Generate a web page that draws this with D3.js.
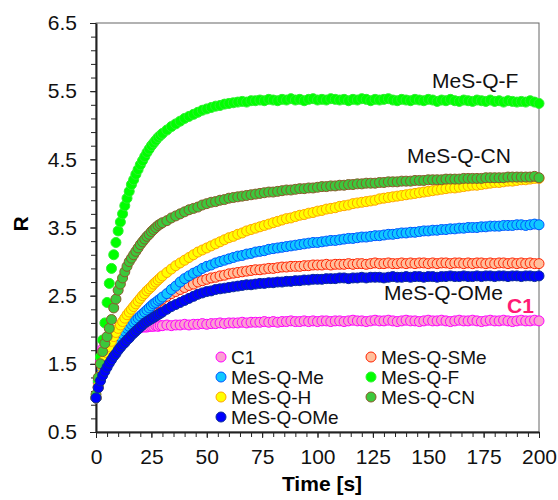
<!DOCTYPE html>
<html>
<head>
<meta charset="utf-8">
<style>
  body { margin: 0; background: #fff; }
  svg { font-family: 'Liberation Sans', Arial, sans-serif; }
  .axis text { font-size: 21px; fill: #111; }
  .axis path, .axis line { stroke: #222; }
</style>
</head>
<body>
<svg width="558" height="500"></svg>
<script src="https://d3js.org/d3.v7.min.js"></script>
<script>
// sample times [s]
const times = [0,1,2,3,4,5,6,7,8,9,10,11,12,13,14,15,16,17,18,19,20,21,22,23,24,25,26,27,28,29,30,
  32,34,36,38,40,42,44,46,48,50,52,54,56,58,60,62,64,66,68,70,72,74,76,78,80,82,84,86,88,90,
  92,94,96,98,100,102,104,106,108,110,112,114,116,118,120,122,124,126,128,130,
  132,134,136,138,140,142,144,146,148,150,152,154,156,158,160,162,164,166,168,170,
  172,174,176,178,180,182,184,186,188,190,192,194,196,198,200];

const c1 = [1.00,1.22,1.52,1.72,1.82,1.88,1.92,1.95,1.97,1.98,1.99,2.00,2.00,2.01,2.01,2.02,2.02,2.02,2.03,2.03,
  2.03,2.04,2.04,2.04,2.05,2.05,2.05,2.06,2.05,2.06,2.06,
  2.07,2.06,2.07,2.07,2.08,2.07,2.08,2.08,2.09,2.08,
  2.09,2.09,2.10,2.09,2.10,2.10,2.10,2.11,2.10,2.11,
  2.11,2.11,2.12,2.11,2.12,2.11,2.12,2.12,2.13,2.12,
  2.12,2.13,2.12,2.13,2.12,2.13,2.13,2.12,2.13,2.13,
  2.12,2.13,2.14,2.13,2.13,2.12,2.13,2.14,2.13,2.13,
  2.14,2.13,2.12,2.13,2.14,2.13,2.13,2.12,2.13,2.14,
  2.13,2.13,2.14,2.13,2.12,2.13,2.14,2.13,2.13,2.14,
  2.13,2.12,2.13,2.14,2.13,2.13,2.14,2.13,2.12,2.13,
  2.14,2.13,2.13,2.14,2.13];

const sme = [1.00,1.15,1.27,1.37,1.45,1.52,1.58,1.64,1.70,1.75,1.80,1.85,1.89,1.93,1.97,2.01,2.05,2.08,2.12,2.15,
  2.18,2.21,2.24,2.27,2.30,2.33,2.35,2.38,2.40,2.43,2.45,
  2.49,2.53,2.56,2.59,2.62,2.65,2.67,2.70,2.72,2.74,
  2.76,2.77,2.79,2.80,2.82,2.83,2.84,2.85,2.86,2.87,
  2.88,2.88,2.89,2.90,2.90,2.91,2.92,2.92,2.93,2.93,
  2.93,2.94,2.94,2.95,2.95,2.95,2.96,2.95,2.96,2.96,
  2.96,2.97,2.96,2.97,2.97,2.96,2.97,2.98,2.97,2.97,
  2.98,2.97,2.97,2.98,2.97,2.98,2.97,2.98,2.98,2.97,
  2.98,2.97,2.98,2.98,2.97,2.98,2.98,2.97,2.98,2.97,
  2.98,2.98,2.97,2.98,2.97,2.98,2.98,2.97,2.98,2.97,
  2.98,2.97,2.98,2.97,2.97];

const me = [1.00,1.16,1.29,1.40,1.49,1.57,1.64,1.70,1.76,1.81,1.86,1.90,1.94,1.98,2.02,2.05,2.08,2.11,2.14,2.17,
  2.20,2.23,2.26,2.29,2.32,2.35,2.38,2.40,2.43,2.45,2.48,
  2.53,2.59,2.64,2.70,2.75,2.79,2.83,2.86,2.90,2.93,
  2.95,2.98,3.00,3.02,3.04,3.06,3.08,3.09,3.11,3.12,
  3.14,3.15,3.16,3.18,3.19,3.20,3.21,3.22,3.23,3.24,
  3.25,3.26,3.27,3.28,3.28,3.29,3.30,3.31,3.31,3.32,
  3.33,3.34,3.34,3.35,3.36,3.36,3.37,3.38,3.38,3.39,
  3.40,3.40,3.41,3.42,3.42,3.43,3.43,3.44,3.45,3.45,
  3.46,3.46,3.47,3.47,3.48,3.48,3.49,3.49,3.50,3.50,
  3.50,3.51,3.51,3.52,3.52,3.52,3.53,3.53,3.53,3.54,
  3.54,3.53,3.54,3.55,3.54];

const fl = [1.00,1.25,1.60,1.85,2.10,2.40,2.68,2.90,3.10,3.28,3.45,3.58,3.70,3.82,3.93,4.03,4.13,4.20,4.28,4.35,
  4.42,4.48,4.54,4.60,4.65,4.70,4.74,4.78,4.82,4.85,4.88,
  4.93,4.98,5.02,5.06,5.10,5.13,5.16,5.19,5.22,5.24,
  5.26,5.28,5.29,5.31,5.32,5.33,5.34,5.35,5.34,5.36,
  5.36,5.37,5.36,5.38,5.37,5.36,5.38,5.37,5.39,5.37,
  5.38,5.36,5.38,5.39,5.37,5.38,5.37,5.39,5.38,5.37,
  5.38,5.36,5.38,5.37,5.39,5.38,5.36,5.38,5.37,5.38,
  5.39,5.37,5.36,5.38,5.37,5.36,5.38,5.37,5.36,5.38,
  5.37,5.35,5.37,5.36,5.38,5.36,5.35,5.37,5.36,5.35,
  5.37,5.36,5.35,5.37,5.35,5.36,5.34,5.36,5.35,5.34,
  5.35,5.34,5.36,5.34,5.32];

const hh = [1.00,1.17,1.32,1.45,1.56,1.66,1.75,1.83,1.90,1.96,2.02,2.07,2.12,2.17,2.22,2.26,2.30,2.34,2.38,2.42,
  2.46,2.50,2.53,2.57,2.60,2.63,2.67,2.70,2.73,2.76,2.79,
  2.84,2.89,2.94,2.98,3.02,3.06,3.10,3.14,3.17,3.20,
  3.23,3.26,3.29,3.32,3.35,3.37,3.40,3.42,3.45,3.47,
  3.49,3.51,3.53,3.55,3.57,3.59,3.61,3.63,3.64,3.66,
  3.68,3.69,3.71,3.72,3.74,3.75,3.77,3.78,3.79,3.81,
  3.82,3.83,3.85,3.86,3.87,3.88,3.89,3.90,3.92,3.93,
  3.94,3.95,3.96,3.97,3.98,3.99,4.00,4.01,4.02,4.03,
  4.04,4.05,4.06,4.07,4.08,4.08,4.09,4.10,4.11,4.12,
  4.12,4.13,4.14,4.15,4.16,4.16,4.17,4.18,4.18,4.19,
  4.20,4.20,4.21,4.22,4.22];

const cn = [1.05,1.30,1.50,1.68,1.80,1.90,2.02,2.15,2.32,2.45,2.58,2.67,2.76,2.85,2.93,3.00,3.05,3.10,3.15,3.20,
  3.25,3.29,3.33,3.37,3.40,3.44,3.47,3.50,3.53,3.55,3.57,
  3.60,3.64,3.67,3.70,3.73,3.76,3.78,3.80,3.83,3.85,
  3.87,3.88,3.90,3.91,3.93,3.94,3.95,3.96,3.97,3.98,
  3.99,4.00,4.01,4.02,4.02,4.03,4.04,4.05,4.05,4.06,
  4.07,4.07,4.08,4.08,4.09,4.10,4.10,4.11,4.11,4.12,
  4.12,4.13,4.13,4.14,4.14,4.15,4.15,4.15,4.16,4.16,
  4.17,4.17,4.17,4.18,4.18,4.18,4.19,4.19,4.19,4.20,
  4.20,4.20,4.20,4.21,4.21,4.21,4.21,4.22,4.22,4.22,
  4.22,4.22,4.23,4.23,4.23,4.23,4.23,4.24,4.24,4.24,
  4.24,4.24,4.24,4.25,4.23];

const ome = [1.00,1.15,1.25,1.33,1.39,1.45,1.51,1.56,1.61,1.65,1.70,1.74,1.78,1.81,1.85,1.88,1.92,1.95,1.98,2.01,
  2.04,2.07,2.10,2.12,2.14,2.16,2.18,2.20,2.22,2.24,2.26,
  2.30,2.34,2.37,2.40,2.43,2.46,2.49,2.52,2.54,2.56,
  2.57,2.59,2.60,2.61,2.62,2.63,2.64,2.65,2.66,2.66,
  2.67,2.68,2.68,2.69,2.69,2.70,2.70,2.71,2.71,2.72,
  2.72,2.73,2.73,2.74,2.74,2.74,2.75,2.75,2.75,2.76,
  2.76,2.75,2.76,2.76,2.77,2.76,2.77,2.77,2.77,2.76,
  2.77,2.78,2.77,2.77,2.78,2.77,2.78,2.78,2.77,2.78,
  2.78,2.77,2.78,2.78,2.79,2.78,2.78,2.79,2.78,2.78,
  2.79,2.78,2.79,2.79,2.78,2.79,2.79,2.78,2.79,2.79,
  2.78,2.79,2.79,2.78,2.79];

// series in legend / drawing order
const seriesNames = ["C1", "MeS-Q-SMe", "MeS-Q-Me", "MeS-Q-F", "MeS-Q-H", "MeS-Q-CN", "MeS-Q-OMe"];
const seriesValues = [c1, sme, me, fl, hh, cn, ome];
const fills = ["#fb9fd2", "#ffbf9c", "#10c8ff", "#00ff00", "#ffff00", "#3cc83c", "#0000ff"];
const strokes = ["#ff00ff", "#ff2200", "#0055ff", "#30f030", "#ffa500", "#8b5a2b", "#0a2a9a"];

const xTicks = [0, 25, 50, 75, 100, 125, 150, 175, 200];
const yTicks = [0.5, 1.5, 2.5, 3.5, 4.5, 5.5, 6.5];

const svg = d3.select("svg");

let x = d3.scaleLinear().domain([0, 200]).range([96, 539]);
let y = d3.scaleLinear().domain([0.5, 6.5]).range([432, 23]);

// plot frame
svg.append("rect")
  .attr("x", x(0)).attr("y", y(6.5))
  .attr("width", x(200) - x(0)).attr("height", y(0.5) - y(6.5))
  .style("fill", "none").style("stroke", "#666").style("stroke-width", 1);

// minor ticks
svg.append("g")
  .attr("class", "axis")
  .attr("transform", `translate(${x(0)},0)`)
  .call(d3.axisLeft(y).tickValues(d3.range(0.7, 6.5, 0.2)).tickSize(5).tickFormat(""))
  .call(g => g.select(".domain").remove());

svg.append("g")
  .attr("class", "axis")
  .attr("transform", `translate(0,${y(0.5)})`)
  .call(d3.axisBottom(x).tickValues(d3.range(5, 200, 5)).tickSize(5).tickFormat(""))
  .call(g => g.select(".domain").remove());

// major axes
let yAxis = svg.append("g")
  .attr("class", "axis")
  .attr("transform", `translate(${x(0)},0)`)
  .call(d3.axisLeft(y).tickValues(yTicks).tickSize(6).tickSizeOuter(0).tickPadding(13).tickFormat(d3.format(".1f")));
yAxis.select(".domain").style("stroke-width", 2);

let xAxis = svg.append("g")
  .attr("class", "axis")
  .attr("transform", `translate(0,${y(0.5)})`)
  .call(d3.axisBottom(x).tickValues(xTicks).tickSize(6).tickSizeOuter(0).tickPadding(11));
xAxis.select(".domain").style("stroke-width", 2);

// data points
seriesValues.forEach(function (vals, i) {
  let pts = times.map((t, j) => ({ t: t, v: vals[j] })).filter(d => d.v != null);
  svg.append("g")
    .selectAll("circle")
    .data(pts)
    .join("circle")
    .attr("cx", d => x(d.t))
    .attr("cy", d => y(d.v))
    .attr("r", 5)
    .style("fill", fills[i])
    .style("stroke", strokes[i])
    .style("stroke-width", 1);
});

// axis titles
svg.append("text")
  .attr("x", 322).attr("y", 491)
  .attr("text-anchor", "middle")
  .style("font-size", "21px").style("font-weight", "bold")
  .text("Time [s]");

svg.append("text")
  .attr("transform", "translate(28,224) rotate(-90)")
  .attr("text-anchor", "middle")
  .style("font-size", "21px").style("font-weight", "bold")
  .text("R");

// curve labels
const labels = [
  { text: "MeS-Q-F", x: 432, y: 88 },
  { text: "MeS-Q-CN", x: 407, y: 163 },
  { text: "MeS-Q-OMe", x: 384, y: 300 }
];
labels.forEach(function (l) {
  svg.append("text").attr("x", l.x).attr("y", l.y)
    .style("font-size", "21px").style("fill", "#111")
    .text(l.text);
});
svg.append("text").attr("x", 507).attr("y", 313)
  .style("font-size", "21px").style("font-weight", "bold").style("fill", "#ff1a75")
  .text("C1");

// legend (two columns, filled row-wise)
seriesNames.forEach(function (name, i) {
  let col = i % 2, row = Math.floor(i / 2);
  let lx = col === 0 ? 221 : 371;
  let ly = 357 + row * 20;
  svg.append("circle").attr("cx", lx).attr("cy", ly).attr("r", 5)
    .style("fill", fills[i]).style("stroke", strokes[i]).style("stroke-width", 1);
  svg.append("text").attr("x", lx + 10).attr("y", ly + 7)
    .style("font-size", "19px").style("fill", "#111")
    .text(name);
});
</script>
</body>
</html>
